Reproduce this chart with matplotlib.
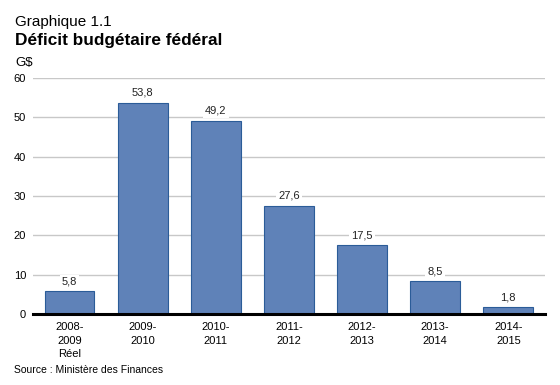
import matplotlib.pyplot as plt

plt.rcParams['font.family'] = ['Liberation Sans', 'DejaVu Sans']

annees = ['2008-\n2009\nRéel', '2009-\n2010', '2010-\n2011', '2011-\n2012',
          '2012-\n2013', '2013-\n2014', '2014-\n2015']
deficits = [5.8, 53.8, 49.2, 27.6, 17.5, 8.5, 1.8]
yticks = [0, 10, 20, 30, 40, 50, 60]

fig = plt.figure(figsize=(5.6, 3.85), dpi=100)
ax = fig.add_axes([0.059, 0.184, 0.914, 0.613])

x = range(len(deficits))
ax.bar(x, deficits, width=0.68, color='#5f82b8', edgecolor='#2b5c98', linewidth=0.8, zorder=3)

for i, v in enumerate(deficits):
    ax.text(i, v + 1.2, f'{v:.1f}'.replace('.', ','), ha='center', va='bottom', fontsize=8,
            color='#222222', zorder=4,
            bbox=dict(facecolor='white', edgecolor='none', pad=1.5))

ax.set_xlim(-0.5, len(deficits) - 0.5)
ax.set_ylim(0, 60)
ax.set_yticks(yticks)
ax.set_xticks(list(x))
ax.set_xticklabels(annees, fontsize=8, linespacing=1.4)
ax.tick_params(axis='y', labelsize=8, length=0, pad=5)
ax.tick_params(axis='x', length=0, pad=6)
ax.yaxis.grid(True, color='#c8c8c8', linewidth=1.0, zorder=0)
ax.set_axisbelow(True)
for s in ['top', 'right', 'left']:
    ax.spines[s].set_visible(False)
ax.spines['bottom'].set_linewidth(2.2)
ax.spines['bottom'].set_zorder(5)

fig.text(0.027, 0.943, 'Graphique 1.1', fontsize=11, va='center')
fig.text(0.027, 0.894, 'Déficit budgétaire fédéral', fontsize=12.4, fontweight='bold', va='center')
fig.text(0.028, 0.837, 'G$', fontsize=9.5, va='center')
fig.text(0.025, 0.039, 'Source : Ministère des Finances', fontsize=7.5, va='center')

plt.savefig('out.png', dpi=100)
